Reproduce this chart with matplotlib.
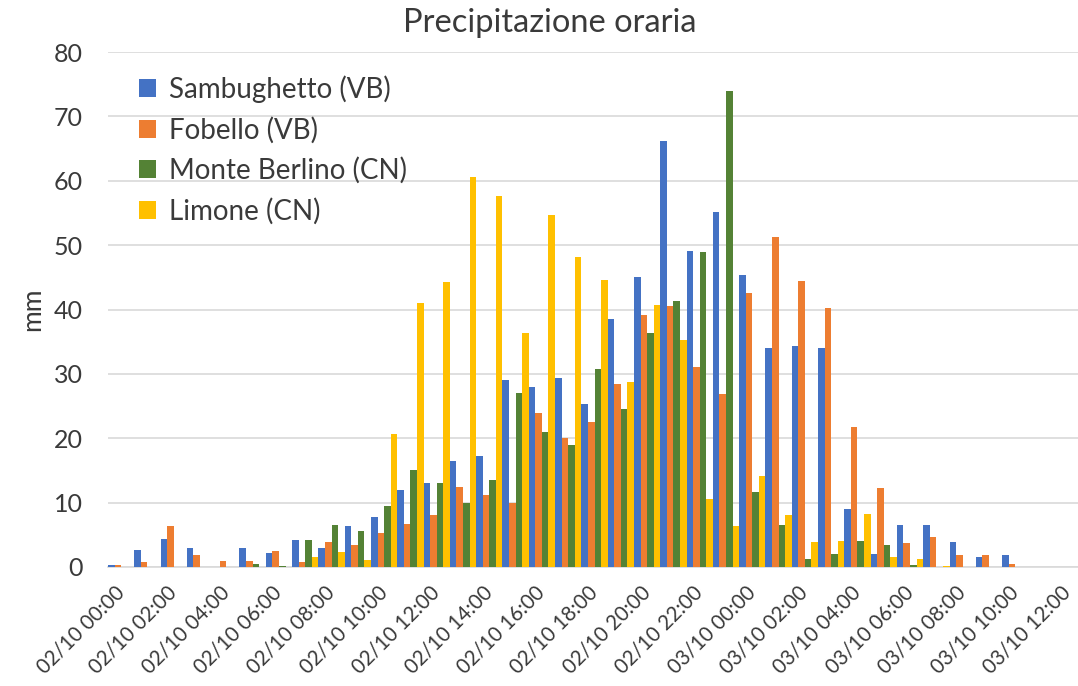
import matplotlib
matplotlib.use("Agg")
import matplotlib.pyplot as plt
import numpy as np

hours = list(range(37))
tick_labels = ["02/10 00:00", "02/10 02:00", "02/10 04:00", "02/10 06:00", "02/10 08:00",
               "02/10 10:00", "02/10 12:00", "02/10 14:00", "02/10 16:00", "02/10 18:00",
               "02/10 20:00", "02/10 22:00", "03/10 00:00", "03/10 02:00", "03/10 04:00",
               "03/10 06:00", "03/10 08:00", "03/10 10:00", "03/10 12:00"]

sambughetto = [0.3, 2.7, 4.3, 2.9, 0.0, 2.9, 2.2, 4.2, 2.9, 6.4, 7.7, 12.0, 13.0, 16.5, 17.2,
               29.0, 27.9, 29.3, 25.3, 38.5, 45.1, 66.1, 49.1, 55.2, 45.4, 34.0, 34.3, 34.0,
               9.0, 2.0, 6.5, 6.5, 3.9, 1.5, 1.9, 0.0, 0.0]
fobello = [0.3, 0.8, 6.3, 1.9, 1.0, 0.9, 2.5, 0.8, 3.9, 3.4, 5.3, 6.7, 8.1, 12.5, 11.2,
           10.0, 23.9, 20.0, 22.5, 28.5, 39.1, 40.6, 31.0, 26.9, 42.5, 51.3, 44.4, 40.3,
           21.8, 12.2, 3.8, 4.6, 1.9, 1.9, 0.4, 0.0, 0.0]
monte_berlino = [0.0, 0.0, 0.0, 0.0, 0.0, 0.4, 0.2, 4.2, 6.5, 5.6, 9.4, 15.1, 13.1, 9.9, 13.5,
                 27.0, 20.9, 18.9, 30.7, 24.6, 36.4, 41.3, 48.9, 74.0, 11.6, 6.6, 1.2, 2.0,
                 4.0, 3.4, 0.3, 0.0, 0.0, 0.0, 0.0, 0.0, 0.0]
limone = [0.0, 0.0, 0.0, 0.0, 0.0, 0.0, 0.0, 1.5, 2.4, 1.1, 20.7, 41.0, 44.2, 60.6, 57.6,
          36.3, 54.7, 48.2, 44.6, 28.8, 40.7, 35.2, 10.5, 6.3, 14.1, 8.1, 3.9, 4.1,
          8.2, 1.5, 1.3, 0.2, 0.0, 0.0, 0.0, 0.0, 0.0]

series_names = ["Sambughetto (VB)", "Fobello (VB)", "Monte Berlino (CN)", "Limone (CN)"]
series_values = [sambughetto, fobello, monte_berlino, limone]
colors = ["#4472C4", "#ED7D31", "#548235", "#FFC000"]

plt.rcParams['font.family'] = ['Lato', 'DejaVu Sans']
text_color = "#3a3a3a"

fig = plt.figure(figsize=(10.78, 6.86), dpi=100)
W, H = 1078, 686
left_px, right_px = 108, 1081
top_px, bottom_px = 52, 567
ax = fig.add_axes([left_px / W, (H - bottom_px) / H, (right_px - left_px) / W, (bottom_px - top_px) / H])

x = np.array(hours, dtype=float)
bw = 0.25
for i, (name, vals, c) in enumerate(zip(series_names, series_values, colors)):
    ax.bar(x + (i - 1.5) * bw, vals, width=bw, color=c, label=name, linewidth=0, zorder=3)

ax.set_xlim(-0.5, 36.5)
ax.set_ylim(0, 80)
ax.set_yticks(range(0, 81, 10))
ax.yaxis.grid(True, color="#d9d9d9", linewidth=1.2, zorder=0)
ax.set_axisbelow(True)
for s in ["top", "right", "left"]:
    ax.spines[s].set_visible(False)
ax.spines["bottom"].set_color("#d9d9d9")
ax.spines["bottom"].set_linewidth(1.2)
ax.tick_params(axis="both", length=0, colors=text_color)
ax.tick_params(axis="y", labelsize=18, pad=18)

ax.set_xticks(hours[::2])
ax.set_xticklabels(tick_labels, rotation=45, ha="right", va="center", rotation_mode="anchor",
                   fontsize=14.8, color=text_color)
ax.tick_params(axis="x", pad=16)

ax.set_ylabel("mm", fontsize=19, color=text_color, labelpad=6)
fig.text(0.51, 0.967, "Precipitazione oraria", ha="center", va="center", fontsize=23.5, color=text_color)

leg = ax.legend(loc="upper left", bbox_to_anchor=(139 / W, (H - 75) / H), bbox_transform=fig.transFigure,
                frameon=False, fontsize=20, handlelength=0.62, handleheight=0.62,
                handletextpad=0.45, labelspacing=0.5, borderaxespad=0, borderpad=0)
for t in leg.get_texts():
    t.set_color(text_color)

fig.savefig("out.png", dpi=100)
